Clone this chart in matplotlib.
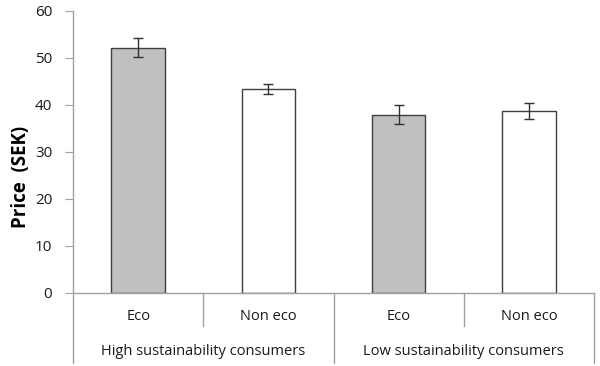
import matplotlib
matplotlib.use("Agg")
import matplotlib.pyplot as plt
import matplotlib.transforms as mtransforms

plt.rcParams["font.family"] = ["Open Sans", "DejaVu Sans"]

categories = ["Eco", "Non eco", "Eco", "Non eco"]
groups = ["High sustainability consumers", "Low sustainability consumers"]
prices = [52.1, 43.3, 37.9, 38.7]
errors = [2.05, 1.05, 2.05, 1.7]
colors = ["#c0c0c0", "#ffffff", "#c0c0c0", "#ffffff"]


def main():
    fig = plt.figure(figsize=(6.0, 3.66), dpi=100)
    ax = fig.add_axes([0.1217, 0.2003, 0.8683, 0.7707])

    x = range(len(prices))
    ax.bar(x, prices, width=0.41, color=colors, edgecolor="#404040", linewidth=1.0, zorder=2)
    ax.errorbar(x, prices, yerr=errors, fmt="none", ecolor="#303030", elinewidth=1.0,
                capsize=3.5, capthick=1.0, zorder=3)

    ax.set_xlim(-0.5, 3.5)
    ax.set_ylim(0, 60)
    ax.set_yticks(range(0, 61, 10))
    ax.tick_params(axis="y", direction="out", length=6, color="#a0a0a0", labelsize=11,
                   labelcolor="#1a1a1a", pad=9)
    ax.set_xticks([])
    for side in ["top", "right"]:
        ax.spines[side].set_visible(False)
    for side in ["left", "bottom"]:
        ax.spines[side].set_color("#a0a0a0")
        ax.spines[side].set_linewidth(1.0)

    ax.set_ylabel("Price  (SEK)", fontsize=13.5, fontweight="bold")
    ax.yaxis.set_label_coords(-0.080, 0.41)

    # two-level category axis
    trans = mtransforms.blended_transform_factory(ax.transData, ax.transAxes)
    for pos in [0.5, 2.5]:
        ax.plot([pos, pos], [0, -0.117], transform=trans, color="#a0a0a0", lw=1.0, clip_on=False)
    for pos in [-0.5, 1.5, 3.5]:
        ax.plot([pos, pos], [0, -0.248], transform=trans, color="#a0a0a0", lw=1.0, clip_on=False)
    for i, label in enumerate(categories):
        ax.text(i, -0.085, label, transform=trans, ha="center", va="center", fontsize=10.5,
                color="#1a1a1a")
    for j, label in enumerate(groups):
        ax.text(2 * j + 0.5, -0.209, label, transform=trans, ha="center", va="center",
                fontsize=10.5, color="#1a1a1a")

    fig.savefig("out.png", dpi=100)
    plt.close(fig)


if __name__ == "__main__":
    main()
